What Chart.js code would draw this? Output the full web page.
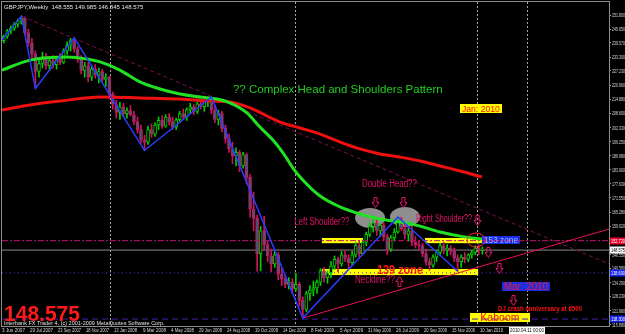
<!DOCTYPE html>
<html><head><meta charset="utf-8">
<script src="https://cdn.jsdelivr.net/npm/chart.js@4.4.1/dist/chart.umd.min.js"></script>
<style>html,body{margin:0;padding:0;background:#000;}canvas{display:block}</style></head>
<body><canvas id="c" width="625" height="334"></canvas>
<script>
// ---------- DATA (weekly GBPJPY, week 0 = 3 Jun 2007) ----------
const weekOpen = [
240.5,242.5,244.8,246,247.8,249.2,250.5,244,239.5,234.5,
227,230.5,233.5,229.5,231.8,230,232.5,231,236,238.5,
240.5,237,232.5,227.5,229.5,224.5,228,225.5,227,223.5,
224.5,217,212.5,209,211.5,208.5,209.8,208,205,201.5,
197,196,201.5,199.5,203.5,205.5,203,207,205,202.5,
205.8,208.5,207,210.3,211.5,209.5,212.8,211.5,213.5,214.5,
210,206,208.5,202,197.5,193,190,191.5,185.5,190.5,
180.5,166.5,162.5,147,157,151,146,142.5,146.5,138,
136,133.5,134.5,131.5,133.5,126.5,122.5,129.5,131,132,
134.5,139.5,136.5,138.5,141.5,144.5,142.5,146.5,145,143,
146.5,150.5,147,152,155.5,159,160.5,157,159.5,154.5,
149,154,156.5,161.5,158,155.5,157,152,151,150.5,
147,143.5,142,145.5,147.5,150.5,148.5,149.5,148,145,
143.5,145.5,144.5,146.5,147.5,149.5,148.555];
const weekHigh = [
243,245.5,247,248.5,250,251.3,251,245.5,241.5,236,
232,235.5,235,233,234,233.5,235,237,240,241.5,
241.8,238,234,231,231,229.5,230,228.5,228,226,
225,218,214.5,213.5,213,211,212,209.5,207,203.5,
199,203,204,204.5,207,207.5,208,208.5,207,206.5,
209.5,210.5,211,213,212.5,213.5,214.5,214,215.5,215.8,
212,210,209.5,203.5,199.5,196,193.5,192.5,191.5,191,
182,174,164,159,163.5,152.5,149,148,147.5,140.5,
137.5,136.5,136,138.5,134.5,128,130.5,133,135,135.5,
140.5,141,139.5,143.5,146,145.5,148,148.5,146.5,148,
152,152.5,153,156.5,160.5,162.5,162,160.5,160.5,155.5,
155,158,163.1,163,160,158.5,159,154.5,153,151.5,
149,145,146.5,148.5,151.5,152,151,150.5,149.5,146.5,
146.5,147.5,147,148.5,150.5,151,149.985];
const weekLow = [
239.5,241.5,243.5,245,246.5,247.8,243,238,233,219.5,
224.5,228.5,228,227.5,228.5,228,230,230.5,234.5,236,
235.5,231,226,224.5,222.5,223,224,222,222.5,220.5,
215,210.5,206.5,206,207.5,206.5,207.5,203.5,200,195.5,
192.3,195,198,198.5,201.5,202,202.5,203.5,201.5,201.5,
204.5,206,205.5,208.5,208,208.5,210.5,209.5,211.5,208.5,
204.5,203.5,200.5,195.5,191.5,186.5,185.5,183,184.5,177.5,
163,157,139.3,139.5,148.5,143.5,139,141,135.5,133,
132,131.5,129.5,130.5,124,118.7,121.5,126.5,128.5,129.5,
133,134.5,134,136.5,140,139,141.5,143.5,140.5,142,
145.5,145.5,146.5,150.5,154.5,156.5,155,154.5,153,146.5,
148,152.5,156,157,153.5,152.5,150.5,149.5,148.5,145.5,
142,139.8,141,143.5,146.5,147,146,146.5,143.5,139.3,
141,143,143.5,145,146.5,146.5,146.845];
const weekClose = [
242.5,244.8,246,247.8,249.2,250.5,244,239.5,234.5,227,
230.5,233.5,229.5,231.8,230,232.5,231,236,238.5,240.5,
237,232.5,227.5,229.5,224.5,228,225.5,227,223.5,224.5,
217,212.5,209,211.5,208.5,209.8,208,205,201.5,197,
196,201.5,199.5,203.5,205.5,203,207,205,202.5,205.8,
208.5,207,210.3,211.5,209.5,212.8,211.5,213.5,214.5,210,
206,208.5,202,197.5,193,190,191.5,185.5,190.5,180.5,
166.5,162.5,147,157,151,146,142.5,146.5,138,136,
133.5,134.5,131.5,133.5,126.5,122.5,129.5,131,132,134.5,
139.5,136.5,138.5,141.5,144.5,142.5,146.5,145,143,146.5,
150.5,147,152,155.5,159,160.5,157,159.5,154.5,149,
154,156.5,161.5,158,155.5,157,152,151,150.5,147,
143.5,142,145.5,147.5,150.5,148.5,149.5,148,145,143.5,
145.5,144.5,146.5,147.5,149.5,148.555,148.575];

const maGreenWeeks  = [-0.5,7.5,18,23.6,27.4,33,38.7,44.4,50.1,55.8,60.6,64.3,69.1,72.8,76.5,79.4,82.2,84.2,89.9,95.6,101.2,106.9,112.6,118.3,124,129.7,135.9];
const maGreenValues = [227.6,232.0,233.4,232.5,231.2,227.6,222.4,219.3,217.1,215.8,214.9,213.2,208.8,202.6,196.9,191.2,184.6,180.7,172.3,167.5,164.4,162.2,160.9,159.1,156.5,154.7,153.4];
const maRedWeeks  = [-0.5,7.5,16,27.4,38.7,50.1,58.6,64.3,70,78.5,84.2,89.9,95.6,101.2,106.9,112.6,118.3,124,129.7,135.9];
const maRedValues = [210.1,212.3,214.0,215.8,215.4,214.9,214.0,213.6,211.0,204.8,202.2,199.5,196.0,193.0,190.8,189.4,187.7,185.5,183.3,180.7];
const zigzagWeeks  = [-0.5,5,9,20,40,59,85,112,129];
const zigzagValues = [240.8,251.3,219.5,241.8,192.3,215.8,118.7,163.1,139.3];
const downTrendWeeks = [5,172], downTrendValues = [251.3,142.5];
const upTrendWeeks = [85,172], upTrendValues = [118.7,157.8];
const levelResist = 152.72, levelPrice = 148.575, levelSupport = 138.6, levelLow = 118.3;

const xTickWeeks  = [0,8,16,24,32,40,48,56,64,72,80,88,96,104,112,120,128,136];
const xTickLabels = ['3 Jun 2007','29 Jul 2007','23 Sep 2007','18 Nov 2007','13 Jan 2008','9 Mar 2008','4 May 2008','29 Jun 2008','24 Aug 2008','19 Oct 2008','14 Dec 2008','8 Feb 2009','5 Apr 2009','31 May 2009','26 Jul 2009','20 Sep 2009','15 Nov 2009','10 Jan 2010'];
const yTickValues = [251.8,245.65,239.57,233.3,227.23,220.96,214.88,208.6,202.33,196.25,189.98,183.9,177.63,171.55,165.28,159.02,152.75,146.55,140.58,134.29,128.23,121.96,115.88];
const separatorWeeks = [30.2,82.75,134.5,148.7];

// ---------- CHART ----------
const X_MIN=-0.5, X_MAX=172, Y_MIN=115.24, Y_MAX=257.51;
const upCol='#00d000', dnCol='#d0125a', upFill='#000000', dnFill='#3c5a7c';
const idx = weekOpen.map((_,i)=>i);
const isUp = i => weekClose[i] >= weekOpen[i];
const pts = (ws,vs)=>ws.map((w,i)=>({x:w,y:vs[i]}));
const hline = v => [{x:X_MIN,y:v},{x:X_MAX,y:v}];

const ellipses=[{w:104.1,p:162.7,rx:15,ry:10},{w:114.0,p:163.1,rx:15,ry:10}];
const zones=[{w1:90.4,w2:102.1,p1:153.9,p2:151.6},{w1:119.7,w2:135.9,p1:153.9,p2:151.6},{w1:90.4,w2:134.8,p1:140.3,p2:137.6}];
const texts=[
 {t:'?? Complex Head and Shoulders Pattern',w:65.14,p:218.9,a:'left',c:'#22cc22',f:'11.5px Arial'},
 {t:'Double Head??',w:109.6,p:177.6,a:'center',c:'#e0126a',f:'10px Arial',mw:55},
 {t:'Left Shoulder??',w:90.4,p:160.9,a:'center',c:'#e0126a',f:'10px Arial',mw:55},
 {t:'Right Shoulder??',w:125.1,p:162.0,a:'center',c:'#e0126a',f:'10px Arial',mw:56},
 {t:'Neckline??',w:105.5,p:135.2,a:'center',c:'#e0126a',f:'10px Arial',mw:40},
 {t:'139 zone',w:112.6,p:139.4,a:'center',c:'#ff1414',f:'bold 12px Arial',mw:46},
 {t:'DJ crash anniversary at 6500',w:152.4,p:122.5,a:'center',c:'#ff1010',f:'bold 7px Arial',mw:84}
];
const boxes=[
 {t:'Jan: 2010',w:135.6,p:210.7,bw:42,bh:9,bg:'#ffff00',c:'#ff1010',f:'9px Arial'},
 {t:'153 zone',w:141.3,p:153.0,bw:38,bh:8,bg:'#1a2ee8',c:'#9fb4ff',f:'9px Arial'},
 {t:'Mar  2010',w:148.4,p:132.6,bw:48,bh:9,bg:'#1a2ee8',c:'#ff1818',f:'10px Arial'},
 {t:'Kaboom',w:141.0,p:119.0,bw:60,bh:9,bg:'#ffff00',c:'#ff1010',f:'10.5px Arial'}
];
const downArrows=[{w:105.5,p:169.7},{w:113.5,p:169.7},{w:134.5,p:161.8},{w:137.6,p:147.7},{w:140.7,p:140.7},{w:144.7,p:126.7}];
const upArrows=[{w:112.3,p:135.0}];
const axisTags=[
 {p:levelResist,t:'152.720',bg:'#e8002a',c:'#ffffff'},
 {p:levelPrice,t:'148.575',bg:'#ffffff',c:'#000000'},
 {p:levelSupport,t:'138.600',bg:'#1424e8',c:'#ffffff'},
 {p:levelLow,t:'118.300',bg:'#1424e8',c:'#ffffff'}
];

function arrow(ctx,cx,cy,dir){
  const s=dir; ctx.beginPath();
  ctx.moveTo(cx-1.5,cy-5*s);ctx.lineTo(cx+1.5,cy-5*s);ctx.lineTo(cx+1.5,cy);ctx.lineTo(cx+3.5,cy);
  ctx.lineTo(cx,cy+5*s);ctx.lineTo(cx-3.5,cy);ctx.lineTo(cx-1.5,cy);ctx.closePath();ctx.stroke();
}

const annot={
 id:'annot',
 beforeDatasetsDraw(chart){
  const {ctx,chartArea:a,scales:{x,y}}=chart; ctx.save();
  ctx.strokeStyle='#8c8c8c';ctx.lineWidth=1;
  ctx.strokeRect(a.left-0.5,a.top-0.5,a.right-a.left+1,a.bottom-a.top+1);
  ctx.setLineDash([2,2]);ctx.strokeStyle='#a8a8a8';
  separatorWeeks.forEach(w=>{const px=Math.round(x.getPixelForValue(w))+0.5;ctx.beginPath();ctx.moveTo(px,a.top);ctx.lineTo(px,a.bottom);ctx.stroke();});
  ctx.setLineDash([]);
  ctx.fillStyle='#8e8e8e';
  ellipses.forEach(e=>{ctx.beginPath();ctx.ellipse(x.getPixelForValue(e.w),y.getPixelForValue(e.p),e.rx,e.ry,0,0,Math.PI*2);ctx.fill();});
  ctx.fillStyle='#ffff00';
  zones.forEach(z=>{const x1=x.getPixelForValue(z.w1),x2=x.getPixelForValue(z.w2),y1=y.getPixelForValue(z.p1),y2=y.getPixelForValue(z.p2);ctx.fillRect(x1,Math.min(y1,y2),x2-x1,Math.abs(y2-y1));});
  boxes.forEach(b=>{const cx=x.getPixelForValue(b.w),cy=y.getPixelForValue(b.p);ctx.fillStyle=b.bg;ctx.fillRect(Math.round(cx-b.bw/2),Math.round(cy-b.bh/2),b.bw,b.bh);});
  ctx.restore();
 },
 afterDatasetsDraw(chart){
  const {ctx,scales:{x,y}}=chart; ctx.save();
  ctx.textBaseline='middle';
  texts.forEach(t=>{ctx.font=t.f;ctx.fillStyle=t.c;ctx.textAlign=t.a;const X=x.getPixelForValue(t.w),Y=y.getPixelForValue(t.p);t.mw?ctx.fillText(t.t,X,Y,t.mw):ctx.fillText(t.t,X,Y);});
  boxes.forEach(b=>{ctx.font=b.f;ctx.fillStyle=b.c;ctx.textAlign='center';ctx.fillText(b.t,x.getPixelForValue(b.w),y.getPixelForValue(b.p)+0.5,b.bw-4);});
  ctx.strokeStyle='#ff2a2a';ctx.lineWidth=1;
  ctx.beginPath();ctx.ellipse(x.getPixelForValue(134.2),y.getPixelForValue(153.0),9,7,0,0,Math.PI*2);ctx.stroke();
  ctx.strokeStyle='#e8126a';
  downArrows.forEach(a=>arrow(ctx,Math.round(x.getPixelForValue(a.w))+0.5,Math.round(y.getPixelForValue(a.p))+0.5,1));
  upArrows.forEach(a=>arrow(ctx,Math.round(x.getPixelForValue(a.w))+0.5,Math.round(y.getPixelForValue(a.p))+0.5,-1));
  ctx.restore();
 },
 afterDraw(chart){
  const {ctx,chartArea:a,scales:{x,y}}=chart; ctx.save();
  // axis tick labels (narrow, like the terminal's font)
  ctx.fillStyle='#d8d8d8';ctx.font='6px "Liberation Sans"';ctx.textBaseline='middle';ctx.textAlign='left';
  yTickValues.forEach(v=>{ctx.fillText(v.toFixed(3),a.right+3,Math.round(y.getPixelForValue(v))+0.5,13);});
  xTickWeeks.forEach((w,i)=>{ctx.fillText(xTickLabels[i],Math.round(x.getPixelForValue(w))-2,a.bottom+4.5,23);});
  ctx.font='5.5px "Liberation Sans"';
  axisTags.forEach(t=>{const cy=Math.round(y.getPixelForValue(t.p));ctx.fillStyle=t.bg;ctx.fillRect(a.right+1,cy-3.5,16,7);ctx.fillStyle=t.c;ctx.fillText(t.t,a.right+2,cy+0.5,14);});
  const sx=Math.round(x.getPixelForValue(148.7));
  ctx.fillStyle='#ffffff';ctx.fillRect(sx-18,a.bottom+1,36,7);
  ctx.fillStyle='#000';ctx.textAlign='center';ctx.font='6px "Liberation Sans"';ctx.fillText('2010.04.11 00:00',sx,a.bottom+4.5,34);
  ctx.textAlign='left';ctx.fillStyle='#e8e8e8';ctx.font='6px "Liberation Sans"';
  ctx.fillText('GBPJPY,Weekly  148.555 149.985 146.845 148.575',a.left+2,a.top+5);
  ctx.font='5.5px "Liberation Sans"';ctx.fillStyle='#e0e0e0';
  ctx.fillText('Interbank FX Trader 4, (c) 2001-2009 MetaQuotes Software Corp.',a.left+2,a.bottom-3);
  ctx.fillStyle='#ff1a1a';ctx.font='bold 22px Arial';ctx.textBaseline='alphabetic';
  ctx.fillText('148.575',a.left+2,a.bottom-5,76);
  ctx.restore();
 }
};

Chart.defaults.font.family='"Liberation Sans", Arial, sans-serif';
new Chart(document.getElementById('c'),{
 type:'bar',
 data:{datasets:[
  {type:'line',order:0,data:pts(zigzagWeeks,zigzagValues),borderColor:'#2a3cff',borderWidth:1.5,pointRadius:0,tension:0},
  {type:'line',order:1,data:pts(maGreenWeeks,maGreenValues),borderColor:'#22e022',borderWidth:3,pointRadius:0,cubicInterpolationMode:'monotone'},
  {type:'line',order:2,data:pts(maRedWeeks,maRedValues),borderColor:'#f01010',borderWidth:3,pointRadius:0,cubicInterpolationMode:'monotone'},
  {type:'line',order:3,data:pts(upTrendWeeks,upTrendValues),borderColor:'#e8105a',borderWidth:1,pointRadius:0},
  {type:'line',order:3,data:pts(downTrendWeeks,downTrendValues),borderColor:'#7a1050',borderWidth:1,borderDash:[4,3],pointRadius:0},
  {type:'line',order:4,data:hline(levelResist),borderColor:'#c0106a',borderWidth:1,borderDash:[6,2,2,2],pointRadius:0},
  {type:'bar',order:5,data:idx.map(i=>({x:i,y:[Math.min(weekOpen[i],weekClose[i]),Math.max(weekOpen[i],weekClose[i])]})),
   barThickness:3,maxBarThickness:3,grouped:false,minBarLength:1,borderWidth:1,borderSkipped:false,
   borderColor:idx.map(i=>isUp(i)?upCol:dnCol),backgroundColor:idx.map(i=>isUp(i)?upFill:dnFill)},
  {type:'bar',order:6,data:idx.map(i=>({x:i,y:[weekLow[i],weekHigh[i]]})),barThickness:1,maxBarThickness:1,grouped:false,borderWidth:0,
   backgroundColor:idx.map(i=>isUp(i)?upCol:dnCol)},
  {type:'line',order:7,data:hline(levelPrice),borderColor:'#8a8a8a',borderWidth:1,pointRadius:0},
  {type:'line',order:7,data:hline(levelSupport),borderColor:'#5a22d8',borderWidth:1,borderDash:[1,3],pointRadius:0},
  {type:'line',order:7,data:hline(levelLow),borderColor:'#4a20a8',borderWidth:1,borderDash:[6,4],pointRadius:0}
 ]},
 options:{
  responsive:false,animation:false,devicePixelRatio:1,
  layout:{autoPadding:false,padding:{left:2,top:2,right:0,bottom:0}},
  plugins:{legend:{display:false},tooltip:{enabled:false}},
  scales:{
   x:{type:'linear',min:X_MIN,max:X_MAX,offset:false,position:'bottom',
      grid:{display:false,drawTicks:false},border:{display:false},
      afterBuildTicks:s=>{s.ticks=xTickWeeks.map(v=>({value:v}));},
      afterFit:s=>{s.height=8;},
      ticks:{display:false}},
   y:{type:'linear',position:'right',min:Y_MIN,max:Y_MAX,
      grid:{display:true,drawOnChartArea:false,drawTicks:true,tickLength:2,color:'#9a9a9a'},
      border:{display:true,color:'#9a9a9a'},
      afterBuildTicks:s=>{s.ticks=yTickValues.map(v=>({value:v}));},
      afterFit:s=>{s.width=16;},
      ticks:{display:false}}
  }
 },
 plugins:[annot]
});
</script></body></html>
